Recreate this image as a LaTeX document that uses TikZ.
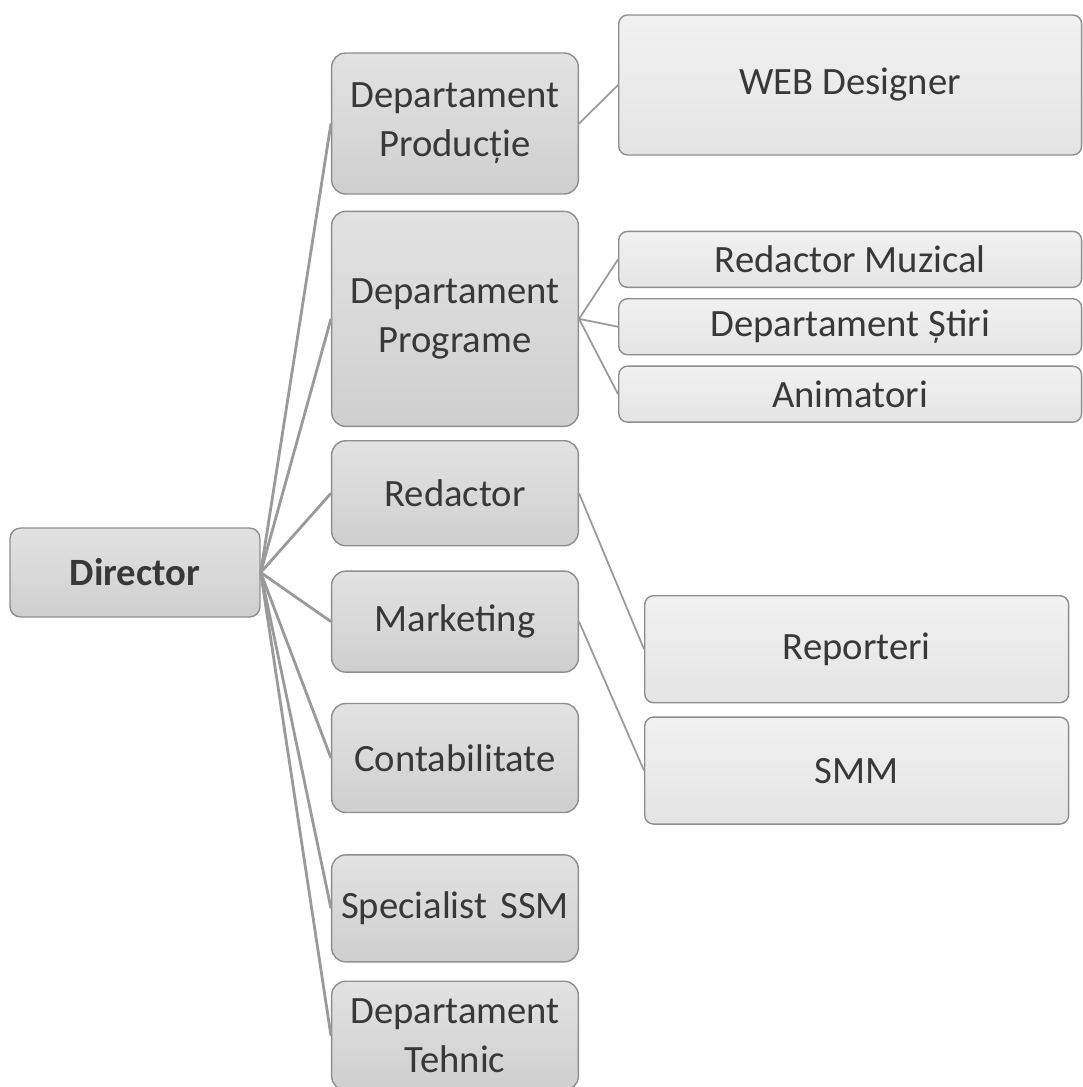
\documentclass[tikz,border=0pt]{standalone}
\usepackage{fontspec}
\setmainfont{Carlito}
\usepackage{tikz}
\usetikzlibrary{positioning}
\definecolor{boxgray}{HTML}{CFCFCF}
\definecolor{subgray}{HTML}{E4E4E4}
\definecolor{rimgray}{HTML}{8E8E8E}
\definecolor{lngray}{HTML}{9A9A9A}
\definecolor{txtgray}{HTML}{383838}
\tikzstyle{db}=[rectangle, draw=rimgray, top color=boxgray!60, bottom color=boxgray,
    rounded corners=6pt, line width=0.8pt, minimum width=5cm, minimum height=1.78cm,
    align=center, text=txtgray, font=\fontsize{22}{28}\selectfont\bfseries]
\tikzstyle{lb}=[rectangle, draw=rimgray, top color=boxgray!60, bottom color=boxgray,
    rounded corners=8pt, line width=0.8pt, minimum width=4.92cm, text width=4.7cm,
    align=center, text=txtgray, font=\fontsize{22}{28}\selectfont]
\tikzstyle{sb}=[rectangle, draw=rimgray, top color=subgray!50, bottom color=subgray,
    rounded corners=5pt, line width=0.8pt, minimum width=9.26cm,
    align=center, text=txtgray, font=\fontsize{22}{28}\selectfont]

\begin{document}
\begin{tikzpicture}[x=0.02cm,y=-0.02cm,
                    ln/.style={draw=lngray,line width=1.6pt},
                    lt/.style={draw=lngray,line width=1pt}]
  \useasboundingbox (0,0) rectangle (1082,1087);

  % director and departments
  \node[db] (dir) at (135,572.5) {Director};
  \node[lb, minimum height=2.82cm] (prod) at (455,123.5) {Departament\\Producție};
  \node[lb, minimum height=4.3cm, below=0.32cm of prod] (prog) {Departament\\Programe};
  \node[lb, minimum height=2.1cm, below=0.26cm of prog] (red) {Redactor};
  \node[lb, minimum height=2.02cm, below=0.48cm of red] (mkt) {Marketing};
  \node[lb, minimum height=2.18cm, below=0.6cm of mkt] (cont) {Contabilitate};
  \node[lb, minimum height=2.14cm, below=0.82cm of cont] (ssm) {Specialist SSM};
  \node[lb, minimum height=2.18cm, below=0.36cm of ssm] (teh) {Departament\\Tehnic};

  % sub posts
  \node[sb, minimum height=2.8cm, right=0.78cm of prod, yshift=0.77cm] (web) {WEB Designer};
  \node[sb, minimum height=1.12cm, right=0.78cm of prog, yshift=1.19cm] (muz) {Redactor Muzical};
  \node[sb, minimum height=1.12cm, below=0.2cm of muz] (stiri) {Departament Știri};
  \node[sb, minimum height=1.12cm, below=0.2cm of stiri] (anim) {Animatori};
  \node[sb, minimum width=8.48cm, minimum height=2.14cm, right=1.3cm of red, yshift=-3.12cm] (rep) {Reporteri};
  \node[sb, minimum width=8.48cm, minimum height=2.14cm, below=0.26cm of rep] (smm) {SMM};

  \path (dir.east) edge[ln] (prod.west)
        (dir.east) edge[ln] (prog.west)
        (dir.east) edge[ln] (red.west)
        (dir.east) edge[ln] (mkt.west)
        (dir.east) edge[ln] (cont.west)
        (dir.east) edge[ln] (ssm.west)
        (dir.east) edge[ln] (teh.west);
  \path (prod.east) edge[lt] (web.west)
        (prog.east) edge[lt] (muz.west)
        (prog.east) edge[lt] (stiri.west)
        (prog.east) edge[lt] (anim.west)
        (red.east) edge[lt] (rep.west)
        (mkt.east) edge[lt] (smm.west);
\end{tikzpicture}
\end{document}
